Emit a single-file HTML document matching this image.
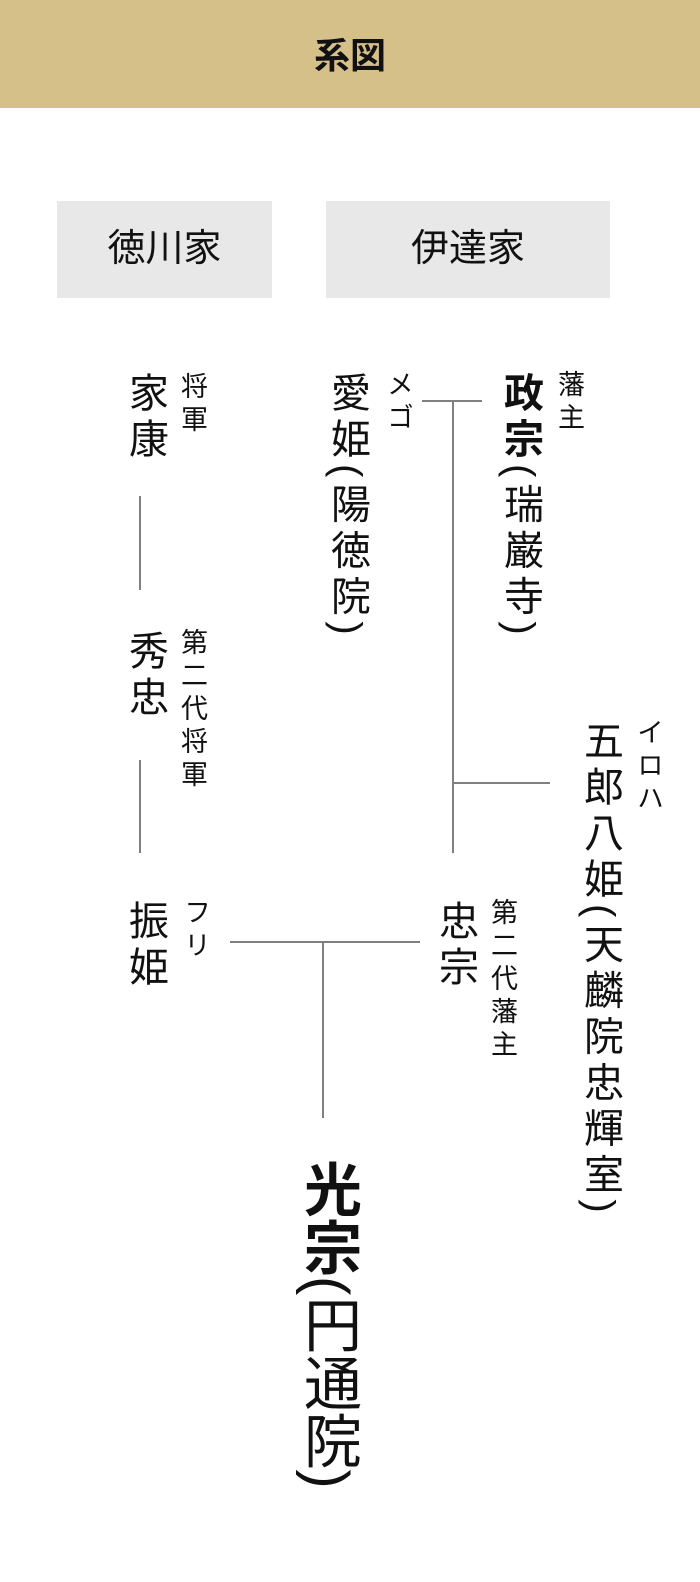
<!DOCTYPE html>
<html><head><meta charset="utf-8"><style>
body{margin:0;width:700px;height:1582px;background:#fff;position:relative;overflow:hidden;font-family:"Liberation Sans","Noto Sans CJK JP",sans-serif;color:#111}
.hd{position:absolute;left:0;top:0;width:700px;height:108px;background:#d6c08a;text-align:center;line-height:112px;font-size:36px;font-weight:bold}
.box{position:absolute;top:201px;height:97px;background:#e8e8e8;text-align:center;line-height:97px;font-size:38px}
.v{position:absolute;writing-mode:vertical-rl;line-height:1;white-space:nowrap}
.m{font-size:40px;letter-spacing:6px}
.s{font-size:27px;letter-spacing:6px}
.l{position:absolute;background:#808080}
</style></head><body>
<div class="hd">系図</div>
<div class="box" style="left:57px;width:215px">徳川家</div>
<div class="box" style="left:326px;width:284px">伊達家</div>

<div class="v m" style="left:125px;top:372px">家康</div>
<div class="v s" style="left:178px;top:372px">将軍</div>
<div class="v m" style="left:125px;top:630px">秀忠</div>
<div class="v s" style="left:178px;top:628px">第二代将軍</div>
<div class="v m" style="left:125px;top:900px">振姫</div>
<div class="v s" style="left:181px;top:898px">フリ</div>

<div class="v m" style="left:327px;top:372px">愛姫(陽徳院)</div>
<div class="v s" style="left:384px;top:370px">メゴ</div>
<div class="v m" style="left:500px;top:372px"><b>政宗</b>(瑞巌寺)</div>
<div class="v s" style="left:555px;top:370px">藩主</div>
<div class="v m" style="left:580px;top:720px">五郎八姫(天麟院忠輝室)</div>
<div class="v s" style="left:634px;top:718px">イロハ</div>
<div class="v m" style="left:435px;top:900px">忠宗</div>
<div class="v s" style="left:488px;top:898px">第二代藩主</div>
<div class="v" style="left:298px;top:1160px;font-size:58px;letter-spacing:0"><b>光宗</b>(円通院)</div>

<div class="l" style="left:139px;top:496px;width:2px;height:94px"></div>
<div class="l" style="left:139px;top:760px;width:2px;height:93px"></div>
<div class="l" style="left:422px;top:400px;width:60px;height:2px"></div>
<div class="l" style="left:452px;top:400px;width:2px;height:453px"></div>
<div class="l" style="left:452px;top:782px;width:98px;height:2px"></div>
<div class="l" style="left:230px;top:941px;width:190px;height:2px"></div>
<div class="l" style="left:322px;top:941px;width:2px;height:177px"></div>
</body></html>
